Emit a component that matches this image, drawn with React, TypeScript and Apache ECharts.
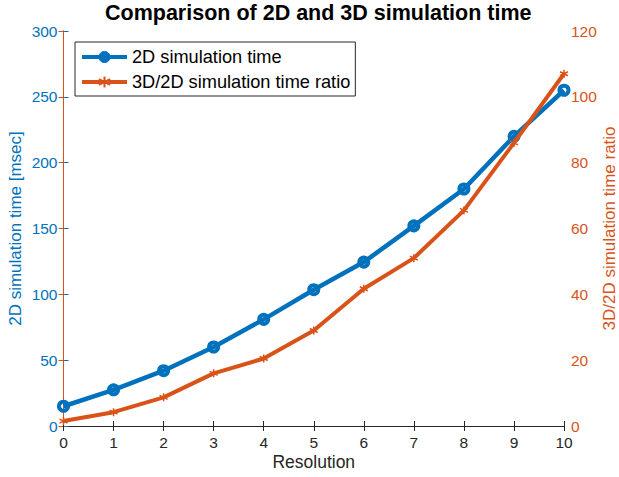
import React, { useEffect, useRef } from "react";
import * as echarts from "echarts";

const resolution = [0, 1, 2, 3, 4, 5, 6, 7, 8, 9, 10];
const time2D = [15, 27.5, 42, 60, 81, 103.5, 124.5, 152, 180, 220, 255];
const ratio3D2D = [1.5, 4.2, 8.7, 16, 20.5, 29, 41.7, 51, 65.5, 86, 107];

const seriesNames = ["2D simulation time", "3D/2D simulation time ratio"];
const titleText = "Comparison of 2D and 3D simulation time";
const xName = "Resolution";
const yLeftName = "2D simulation time [msec]";
const yRightName = "3D/2D simulation time ratio";

const BLUE = "#0072BD";
const ORANGE = "#D95319";
const DARK = "#262626";
const FONT = "'Liberation Sans', Arial, Helvetica, sans-serif";

const STAR = "path://M0,-10L0,10M-8.66,-5L8.66,5M-8.66,5L8.66,-5";

export default function App() {
  const ref = useRef<HTMLDivElement>(null);
  useEffect(() => {
    if (!ref.current) return;
    document.body.style.margin = "0";
    document.body.style.overflow = "hidden";
    document.documentElement.style.overflow = "hidden";
    const chart = echarts.init(ref.current, undefined, {
      renderer: "svg",
      width: 619,
      height: 477,
    });
    chart.setOption({
      animation: false,
      backgroundColor: "#ffffff",
      textStyle: { fontFamily: FONT },
      title: {
        text: titleText,
        left: 105,
        top: 2,
        padding: 0,
        textStyle: { fontSize: 21.5, fontWeight: "bold", color: "#000000", fontFamily: FONT },
      },
      legend: {
        orient: "vertical",
        left: 75,
        top: 42,
        padding: [5, 5, 4, 5],
        itemGap: 5,
        itemWidth: 45,
        itemHeight: 14,
        borderColor: DARK,
        borderWidth: 1,
        backgroundColor: "#ffffff",
        lineStyle: { width: 4 },
        textStyle: { fontSize: 18.2, color: "#000000", lineHeight: 20, fontFamily: FONT },
        data: [
          { name: seriesNames[0], itemStyle: { color: BLUE, borderColor: BLUE, borderWidth: 1 } },
          { name: seriesNames[1] },
        ],
      },
      grid: {
        left: 63.5,
        right: 55,
        top: 31,
        bottom: 51,
        containLabel: false,
        outerBoundsMode: "none",
      },
      xAxis: [
        {
          type: "value",
          min: 0,
          max: 10,
          interval: 1,
          position: "bottom",
          axisLine: { show: true, lineStyle: { color: DARK, width: 1 } },
          axisTick: { show: true, inside: true, length: 5, lineStyle: { color: DARK } },
          axisLabel: { color: DARK, fontSize: 15.5, margin: 8 },
          splitLine: { show: false },
          name: xName,
          nameLocation: "middle",
          nameGap: 27,
          nameMoveOverlap: false,
          nameTextStyle: { fontSize: 17.5, color: DARK },
        },
        {
          type: "value",
          min: 0,
          max: 10,
          interval: 1,
          position: "top",
          axisLine: { show: true, lineStyle: { color: DARK, width: 1 } },
          axisTick: { show: true, inside: true, length: 5, lineStyle: { color: DARK } },
          axisLabel: { show: false },
          splitLine: { show: false },
        },
      ],
      yAxis: [
        {
          type: "value",
          min: 0,
          max: 300,
          interval: 50,
          position: "left",
          axisLine: { show: true, lineStyle: { color: BLUE, width: 1 } },
          axisTick: { show: true, inside: true, length: 5, lineStyle: { color: BLUE } },
          axisLabel: { color: BLUE, fontSize: 15.5, margin: 6 },
          splitLine: { show: false },
          name: yLeftName,
          nameLocation: "middle",
          nameGap: 40,
          nameMoveOverlap: false,
          nameTextStyle: { fontSize: 17, color: BLUE },
        },
        {
          type: "value",
          min: 0,
          max: 120,
          interval: 20,
          position: "right",
          axisLine: { show: true, lineStyle: { color: ORANGE, width: 1 } },
          axisTick: { show: true, inside: true, length: 5, lineStyle: { color: ORANGE } },
          axisLabel: { color: ORANGE, fontSize: 15.5, margin: 7 },
          splitLine: { show: false },
          name: yRightName,
          nameLocation: "middle",
          nameGap: 37,
          nameMoveOverlap: false,
          nameRotate: 90,
          nameTextStyle: { fontSize: 17, color: ORANGE },
        },
      ],
      series: [
        {
          name: seriesNames[0],
          type: "line",
          xAxisIndex: 0,
          yAxisIndex: 0,
          data: resolution.map((r, i) => [r, time2D[i]]),
          lineStyle: { color: BLUE, width: 4.5 },
          symbol: "circle",
          symbolSize: 9,
          showAllSymbol: true,
          itemStyle: { color: "rgba(255,255,255,0)", borderColor: BLUE, borderWidth: 4 },
          z: 3,
        },
        {
          name: seriesNames[1],
          type: "line",
          xAxisIndex: 0,
          yAxisIndex: 1,
          data: resolution.map((r, i) => [r, ratio3D2D[i]]),
          lineStyle: { color: ORANGE, width: 4 },
          symbol: STAR,
          symbolSize: 8,
          showAllSymbol: true,
          itemStyle: { color: "rgba(255,255,255,0)", borderColor: ORANGE, borderWidth: 1.5 },
          z: 4,
        },
      ],
    });
    return () => chart.dispose();
  }, []);
  return (
    <div
      ref={ref}
      style={{ position: "fixed", left: 0, top: 0, width: 619, height: 477 }}
    />
  );
}
